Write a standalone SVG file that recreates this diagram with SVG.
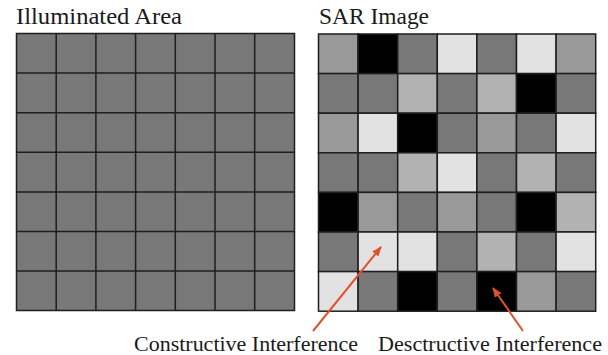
<svg xmlns="http://www.w3.org/2000/svg" width="608" height="355" viewBox="0 0 608 355">
<style>
text{font-family:Liberation Serif, Times New Roman, Times, DejaVu Serif, serif;fill:#1a1a1a}
.c{stroke:#1e1e1e;stroke-width:1.5}
.k{fill:#000}.d{fill:#787878}.m{fill:#999}.l{fill:#b2b2b2}.w{fill:#e2e2e2}
.a{stroke:#e0522c;stroke-width:2;fill:none}
</style>
<defs>
<marker id="ah" markerWidth="10" markerHeight="8" refX="9" refY="4" orient="auto" markerUnits="userSpaceOnUse">
<path d="M0,0 L10,4 L0,8 Z" fill="#e0522c"/>
</marker>
</defs>
<rect width="608" height="355" fill="#fff"/>
<g id="illuminated-area">
<text x="16" y="24" font-size="24" textLength="166" lengthAdjust="spacingAndGlyphs">Illuminated Area</text>
<g transform="translate(16.5,33.5)">
<rect class="c d" x="0" y="0" width="278" height="277"/>
<path class="c" fill="none" d="M39.7,0V277M79.4,0V277M119.1,0V277M158.8,0V277M198.5,0V277M238.2,0V277M0,39.6H278M0,79.2H278M0,118.8H278M0,158.4H278M0,198H278M0,237.6H278"/>
</g>
</g>
<g id="sar-image">
<text x="319" y="24" font-size="24" textLength="110" lengthAdjust="spacingAndGlyphs">SAR Image</text>
<g transform="translate(318.5,34)">
<rect class="c m" x="0" y="0" width="39.6" height="39.6"/>
<rect class="c k" x="39.6" y="0" width="39.6" height="39.6"/>
<rect class="c d" x="79.2" y="0" width="39.6" height="39.6"/>
<rect class="c w" x="118.8" y="0" width="39.6" height="39.6"/>
<rect class="c d" x="158.4" y="0" width="39.6" height="39.6"/>
<rect class="c w" x="198" y="0" width="39.6" height="39.6"/>
<rect class="c m" x="237.6" y="0" width="39.6" height="39.6"/>
<rect class="c d" x="0" y="39.6" width="39.6" height="39.6"/>
<rect class="c d" x="39.6" y="39.6" width="39.6" height="39.6"/>
<rect class="c l" x="79.2" y="39.6" width="39.6" height="39.6"/>
<rect class="c d" x="118.8" y="39.6" width="39.6" height="39.6"/>
<rect class="c l" x="158.4" y="39.6" width="39.6" height="39.6"/>
<rect class="c k" x="198" y="39.6" width="39.6" height="39.6"/>
<rect class="c d" x="237.6" y="39.6" width="39.6" height="39.6"/>
<rect class="c m" x="0" y="79.2" width="39.6" height="39.6"/>
<rect class="c w" x="39.6" y="79.2" width="39.6" height="39.6"/>
<rect class="c k" x="79.2" y="79.2" width="39.6" height="39.6"/>
<rect class="c d" x="118.8" y="79.2" width="39.6" height="39.6"/>
<rect class="c m" x="158.4" y="79.2" width="39.6" height="39.6"/>
<rect class="c d" x="198" y="79.2" width="39.6" height="39.6"/>
<rect class="c w" x="237.6" y="79.2" width="39.6" height="39.6"/>
<rect class="c d" x="0" y="118.8" width="39.6" height="39.6"/>
<rect class="c d" x="39.6" y="118.8" width="39.6" height="39.6"/>
<rect class="c l" x="79.2" y="118.8" width="39.6" height="39.6"/>
<rect class="c w" x="118.8" y="118.8" width="39.6" height="39.6"/>
<rect class="c d" x="158.4" y="118.8" width="39.6" height="39.6"/>
<rect class="c l" x="198" y="118.8" width="39.6" height="39.6"/>
<rect class="c d" x="237.6" y="118.8" width="39.6" height="39.6"/>
<rect class="c k" x="0" y="158.4" width="39.6" height="39.6"/>
<rect class="c m" x="39.6" y="158.4" width="39.6" height="39.6"/>
<rect class="c d" x="79.2" y="158.4" width="39.6" height="39.6"/>
<rect class="c m" x="118.8" y="158.4" width="39.6" height="39.6"/>
<rect class="c d" x="158.4" y="158.4" width="39.6" height="39.6"/>
<rect class="c k" x="198" y="158.4" width="39.6" height="39.6"/>
<rect class="c l" x="237.6" y="158.4" width="39.6" height="39.6"/>
<rect class="c d" x="0" y="198" width="39.6" height="39.6"/>
<rect class="c w" x="39.6" y="198" width="39.6" height="39.6"/>
<rect class="c w" x="79.2" y="198" width="39.6" height="39.6"/>
<rect class="c d" x="118.8" y="198" width="39.6" height="39.6"/>
<rect class="c l" x="158.4" y="198" width="39.6" height="39.6"/>
<rect class="c d" x="198" y="198" width="39.6" height="39.6"/>
<rect class="c w" x="237.6" y="198" width="39.6" height="39.6"/>
<rect class="c w" x="0" y="237.6" width="39.6" height="39.6"/>
<rect class="c d" x="39.6" y="237.6" width="39.6" height="39.6"/>
<rect class="c k" x="79.2" y="237.6" width="39.6" height="39.6"/>
<rect class="c d" x="118.8" y="237.6" width="39.6" height="39.6"/>
<rect class="c k" x="158.4" y="237.6" width="39.6" height="39.6"/>
<rect class="c m" x="198" y="237.6" width="39.6" height="39.6"/>
<rect class="c d" x="237.6" y="237.6" width="39.6" height="39.6"/>
</g>
</g>
<g id="constructive-label">
<text x="134" y="351" font-size="22" textLength="224" lengthAdjust="spacingAndGlyphs">Constructive Interference</text>
</g>
<g id="destructive-label">
<text x="378" y="351" font-size="22" textLength="224" lengthAdjust="spacingAndGlyphs">Desctructive Interference</text>
</g>
<g id="connectors">
<line class="a" x1="313" y1="331" x2="381" y2="247" marker-end="url(#ah)"/>
<line class="a" x1="523" y1="331" x2="493" y2="288" marker-end="url(#ah)"/>
</g>
</svg>
